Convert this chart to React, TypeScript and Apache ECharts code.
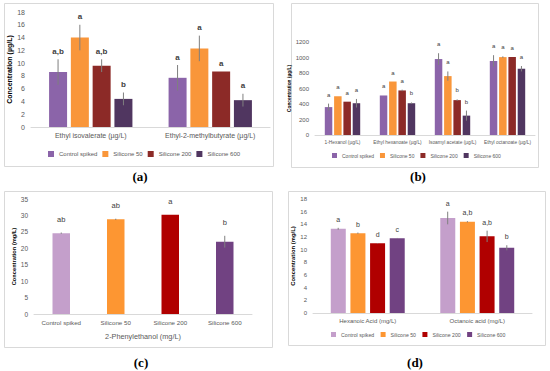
import React, { useEffect, useRef } from "react";
import * as echarts from "echarts";

const FONT = "Liberation Sans, Arial, sans-serif";
const seriesNames = ["Control spiked", "Silicone 50", "Silicone 200", "Silicone 600"];
const colorsAB = ["#8B64A9", "#F9963A", "#8C2A27", "#503660"];
const colorsCD = ["#C49FCB", "#FD9632", "#B00000", "#714282"];

// Panel (a)
const catsA = ["Ethyl isovalerate (µg/L)", "Ethyl-2-methylbutyrate (µg/L)"];
const aValues = [
  [8.6, 7.7],
  [14.0, 12.3],
  [9.6, 8.7],
  [4.4, 4.2],
];
const aErrors = [
  [2.0, 2.0],
  [2.0, 2.0],
  [1.0, 0],
  [1.0, 1.0],
];
const aLetters = [
  ["a,b", "a"],
  ["a", "a"],
  ["a,b", "a"],
  ["b", "a"],
];

// Panel (b)
const catsB = ["1-Hexanol (µg/L)", "Ethyl hexanoate (µg/L)", "Isoamyl acetate (µg/L)", "Ethyl octanoate (µg/L)"];
const bValues = [
  [360, 510, 980, 955],
  [500, 690, 760, 1005],
  [430, 575, 450, 1005],
  [410, 410, 250, 855],
];
const bErrors = [
  [45, 0, 75, 75],
  [0, 0, 60, 10],
  [0, 10, 10, 0],
  [55, 10, 65, 35],
];
const bLetters = [
  ["a", "a", "a", "a"],
  ["a", "a", "a", "a"],
  ["a", "a", "b", "a"],
  ["a", "b", "b", "a"],
];

// Panel (c)
const catsC = ["Control spiked", "Silicone 50", "Silicone 200", "Silicone 600"];
const cValues = [24.6, 28.8, 30.2, 22.0];
const cErrors = [0.2, 0.2, 0, 1.8];
const cLetters = ["ab", "ab", "a", "b"];

// Panel (d)
const catsD = ["Hexanoic Acid (mg/L)", "Octanoic acid (mg/L)"];
const dValues = [
  [13.3, 15.0],
  [12.6, 14.4],
  [11.0, 12.1],
  [11.8, 10.3],
];
const dErrors = [
  [0.15, 1.0],
  [0.1, 0.1],
  [0.05, 0.9],
  [0.05, 0.4],
];
const dLetters = [
  ["a", "a"],
  ["b", "a,b"],
  ["d", "a,b"],
  ["c", "b"],
];

const LETTER_COLOR = "#404040";

function errSeries(
  g: number,
  values: number[],
  errs: number[],
  letters: string[],
  offset: number,
  gap: number,
  fontSize: number,
  bold: boolean
) {
  return {
    type: "custom",
    xAxisIndex: g,
    yAxisIndex: g,
    z: 10,
    silent: true,
    clip: false,
    color: LETTER_COLOR,
    itemStyle: { color: LETTER_COLOR },
    data: values.map((v, i) => [i, v, errs[i]]),
    encode: { x: 0, y: 1 },
    renderItem: (params: any, api: any) => {
      const i = api.value(0);
      const v = api.value(1);
      const e = api.value(2);
      const base = api.coord([i, v]);
      const x = base[0] + offset;
      const top = api.coord([i, v + e])[1];
      const bot = api.coord([i, v - e])[1];
      const children: any[] = [];
      if (e > 0) {
        children.push({
          type: "line",
          shape: { x1: x, y1: top, x2: x, y2: bot },
          style: { stroke: "#7F7F7F", lineWidth: 1 },
        });
      }
      children.push({
        type: "text",
        x,
        y: top - gap,
        style: {
          text: letters[params.dataIndex],
          align: "center",
          verticalAlign: "bottom",
          fontSize,
          fontWeight: bold ? "bold" : "normal",
          fill: LETTER_COLOR,
          fontFamily: FONT,
        },
      });
      return { type: "group", children };
    },
  };
}

function xAx(g: number, data: string[], fontSize: number, extra: any = {}) {
  return {
    type: "category",
    gridIndex: g,
    data,
    axisTick: { show: false },
    axisLine: { lineStyle: { color: "#D9D9D9" } },
    axisLabel: { color: "#595959", fontSize, fontFamily: FONT, margin: 5, interval: 0 },
    ...extra,
  };
}

function yAx(g: number, max: number, interval: number, name: string, nameGap: number, nameSize: number, labelSize: number) {
  return {
    type: "value",
    gridIndex: g,
    min: 0,
    max,
    interval,
    name,
    nameLocation: "middle",
    nameGap,
    nameTextStyle: { fontSize: nameSize, fontWeight: "bold", color: "#000", fontFamily: FONT },
    splitLine: { show: false },
    axisLine: { show: false },
    axisTick: { show: false },
    axisLabel: { color: "#595959", fontSize: labelSize, fontFamily: FONT, margin: 6, formatter: (v: number) => String(v) },
  };
}

export default function App() {
  const ref = useRef<HTMLDivElement>(null);
  useEffect(() => {
    if (!ref.current) return;
    const chart = echarts.init(ref.current, null, { renderer: "svg" });

    const series: any[] = [];
    // (a)
    const aBW = 18, aPitch = 21.8;
    for (let s = 0; s < 4; s++) {
      series.push({
        type: "bar", name: seriesNames[s], xAxisIndex: 0, yAxisIndex: 0,
        data: aValues[s], barWidth: aBW, barGap: "21%", itemStyle: { color: colorsAB[s] },
      });
    }
    for (let s = 0; s < 4; s++) {
      series.push(errSeries(0, aValues[s], aErrors[s], aLetters[s], (s - 1.5) * aPitch, 4, 8, true));
    }
    // (b)
    const bBW = 7.5, bPitch = 9.3;
    for (let s = 0; s < 4; s++) {
      series.push({
        type: "bar", name: seriesNames[s], xAxisIndex: 1, yAxisIndex: 1,
        data: bValues[s], barWidth: bBW, barGap: "24%", itemStyle: { color: colorsAB[s] },
      });
    }
    for (let s = 0; s < 4; s++) {
      series.push(errSeries(1, bValues[s], bErrors[s], bLetters[s], (s - 1.5) * bPitch, 6, 6, false));
    }
    // (c)
    series.push({
      type: "bar", name: "2-Phenylethanol", xAxisIndex: 2, yAxisIndex: 2,
      data: cValues.map((v, i) => ({ value: v, itemStyle: { color: colorsCD[i] } })),
      barWidth: 17.5,
    });
    series.push(errSeries(2, cValues, cErrors, cLetters, 0, 9, 7.5, false));
    // (d)
    const dBW = 15, dPitch = 19.7;
    for (let s = 0; s < 4; s++) {
      series.push({
        type: "bar", name: seriesNames[s] + " ", xAxisIndex: 3, yAxisIndex: 3,
        data: dValues[s], barWidth: dBW, barGap: "31%", itemStyle: { color: colorsCD[s] },
      });
    }
    for (let s = 0; s < 4; s++) {
      series.push(errSeries(3, dValues[s], dErrors[s], dLetters[s], (s - 1.5) * dPitch, 5, 7, false));
    }

    const legendBase = {
      orient: "horizontal",
      selectedMode: false,
      icon: "rect",
      itemWidth: 5,
      itemHeight: 5,
      textStyle: { color: "#595959", fontFamily: FONT },
      padding: 0,
    };

    const borders = [
      [4, 3, 269, 163],
      [291, 3, 247, 164],
      [4, 191, 268, 156],
      [288, 191, 257, 154],
    ].map(([x, y, w, h]) => ({
      type: "rect",
      shape: { x: x + 0.5, y: y + 0.5, width: w, height: h },
      style: { fill: "none", stroke: "#D9D9D9", lineWidth: 1 },
      silent: true,
    }));
    const captions = [
      ["(a)", 140, 176],
      ["(b)", 418, 176],
      ["(c)", 141, 362],
      ["(d)", 415, 362],
    ].map(([t, x, y]) => ({
      type: "text",
      x, y,
      style: {
        text: t, align: "center", verticalAlign: "middle", fontSize: 13,
        fontWeight: "bold", fill: "#000", fontFamily: "Liberation Serif, DejaVu Serif, serif",
      },
    }));

    chart.setOption({
      animation: false,
      backgroundColor: "#fff",
      grid: [
        { left: 31, right: 280, top: 12, bottom: 244 },
        { left: 315, right: 15, top: 42, bottom: 236 },
        { left: 34, right: 298, top: 199, bottom: 57 },
        { left: 313, right: 18, top: 199, bottom: 58 },
      ],
      xAxis: [
        xAx(0, catsA, 7),
        xAx(1, catsB, 4.8),
        xAx(2, catsC, 6.2, {
          name: "2-Phenylethanol (mg/L)", nameLocation: "middle", nameGap: 19,
          nameTextStyle: { color: "#595959", fontSize: 7.3, fontFamily: FONT },
        }),
        xAx(3, catsD, 6),
      ],
      yAxis: [
        yAx(0, 18, 2, "Concentration (µg/L)", 15, 7, 7),
        yAx(1, 1200, 200, "Concentration (µg/L)", 15, 4.8, 6),
        yAx(2, 35, 5, "Concentration (mg/L)", 17, 5.7, 6.5),
        yAx(3, 18, 2, "Concentration (mg/L)", 12, 5.9, 6),
      ],
      legend: [
        { ...legendBase, left: 48, top: 151, itemGap: 5, itemWidth: 6, itemHeight: 6, textStyle: { ...legendBase.textStyle, fontSize: 6 },
          data: seriesNames.map((n, i) => ({ name: n, itemStyle: { color: colorsAB[i] } })) },
        { ...legendBase, left: 332, top: 153, itemGap: 6, textStyle: { ...legendBase.textStyle, fontSize: 5 },
          data: seriesNames.map((n, i) => ({ name: n, itemStyle: { color: colorsAB[i] } })) },
        { ...legendBase, left: 331, top: 332, itemGap: 5, textStyle: { ...legendBase.textStyle, fontSize: 5.2 },
          data: seriesNames.map((n, i) => ({ name: n + " ", itemStyle: { color: colorsCD[i] } })) },
      ],
      graphic: [...borders, ...captions],
      series,
    });
    return () => chart.dispose();
  }, []);
  return <div ref={ref} style={{ position: "fixed", left: 0, top: 0, width: 550, height: 371 }} />;
}
